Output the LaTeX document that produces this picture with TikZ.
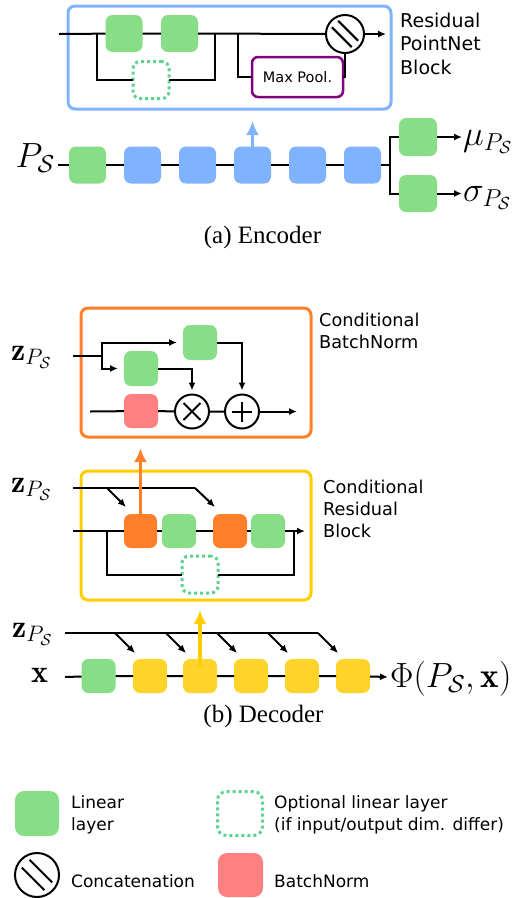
\RequirePackage{fix-cm}
\documentclass[tikz,border=0pt]{standalone}
\usepackage{fontspec}
\newfontfamily\sansf{DejaVu Sans}
\newfontfamily\capf{Liberation Serif}
\usetikzlibrary{arrows.meta}
\definecolor{lingreen}{HTML}{87DE87}
\definecolor{optgreen}{HTML}{5FD38D}
\definecolor{encblue}{HTML}{80B3FF}
\definecolor{cbnorange}{HTML}{FF7F2A}
\definecolor{crbyellow}{HTML}{FFCC00}
\definecolor{boxyellow}{HTML}{FFD42A}
\definecolor{bnred}{HTML}{FF8080}
\definecolor{mppurple}{HTML}{800080}
\tikzset{
  conn/.style={line width=2pt, draw=black},
  arr/.style={conn, -{Latex[length=8pt,width=7pt]}},
  bigarr/.style={line width=3.5pt, -{Latex[length=14pt,width=13pt]}},
  blk/.style={rounded corners=7pt, inner sep=0pt, outer sep=0pt, minimum width=37pt, minimum height=37pt},
  lin/.style={blk, fill=lingreen},
  optbox/.style={blk, draw=optgreen, line width=3pt, dash pattern=on 3pt off 3pt},
  bnbox/.style={blk, fill=bnred},
  frame/.style={rounded corners=7pt, line width=3pt, inner sep=0pt, outer sep=0pt},
  catnode/.style={circle, draw=black, line width=2pt, inner sep=0pt, outer sep=0pt, fill=white},
  symline/.style={line width=2pt, draw=black},
  mathlbl/.style={inner sep=0pt, font=\fontsize{32}{38}\selectfont},
  biglbl/.style={inner sep=0pt, font=\fontsize{35}{40}\selectfont},
  caplbl/.style={inner sep=0pt, font=\capf\fontsize{25}{30}\selectfont},
  blklbl/.style={inner sep=0pt, align=left, anchor=north west, font=\sansf\fontsize{17.7}{22.2}\selectfont},
  leglbl/.style={inner sep=0pt, align=left, anchor=north west, font=\sansf\fontsize{17}{22}\selectfont},
}
\begin{document}
\begin{tikzpicture}[x=1pt,y=-1pt]
\useasboundingbox (0,0) rectangle (528,898);

% ================= Encoder =================
\node[frame, draw=encblue, minimum width=323pt, minimum height=103pt] (e_blk) at (229.5,57.5) {};
\node[lin] (e_l1) at (124,33.5) {};
\node[lin] (e_l2) at (179.5,33.5) {};
\node[optbox, minimum width=36pt, minimum height=37pt] (e_opt) at (151,80) {};
\node[blk, draw=mppurple, line width=2.5pt, rounded corners=6pt, minimum width=91pt, minimum height=40pt, font=\sansf\fontsize{14.5}{17}\selectfont] (e_mp) at (297.5,77) {Max Pool.};
\node[catnode, minimum size=38pt] (e_cat) at (345,34) {};
\coordinate (e_in) at (59,34);
\coordinate (e_s1) at (97,34);
\coordinate (e_j1) at (215,34);
\coordinate (e_s2) at (238,34);
\coordinate (e_out) at (386,34);
\draw[conn] (e_in) -- (e_l1) -- (e_l2) -- (e_cat);
\draw[arr] (e_cat) -- (e_out);
\draw[conn] (e_s1) |- (e_opt);
\draw[conn] (e_opt) -| (e_j1);
\draw[conn] (e_s2) |- (e_mp);
\draw[conn] (e_mp) -| (e_cat);
\draw[symline] ([shift={(-6.7,-13.1)}]e_cat.center) -- ([shift={(13.1,6.7)}]e_cat.center);
\draw[symline] ([shift={(-13.1,-6.7)}]e_cat.center) -- ([shift={(6.7,13.1)}]e_cat.center);
\node[inner sep=0pt, align=left, anchor=north west, font=\sansf\fontsize{19}{23.5}\selectfont] (e_txt) at (400,12.6) {Residual\\PointNet\\Block};

\node[biglbl, anchor=base east] (e_P) at (55,167) {$P_{\mathcal{S}}$};
\coordinate (e_min) at (58,165);
\node[lin] (e_b0) at (87.5,165) {};
\node[blk, fill=encblue] (e_b1) at (142.5,165) {};
\node[blk, fill=encblue] (e_b2) at (197.5,165) {};
\node[blk, fill=encblue] (e_b3) at (252.5,165) {};
\node[blk, fill=encblue] (e_b4) at (307.5,165) {};
\node[blk, fill=encblue] (e_b5) at (362.5,165) {};
\coordinate (e_split) at (390,165);
\draw[conn] (e_min) -- (e_b0) -- (e_b1) -- (e_b2) -- (e_b3) -- (e_b4) -- (e_b5) -- (e_split);
\node[lin, minimum width=38pt, minimum height=38pt] (e_gm) at (418,137) {};
\node[lin, minimum width=38pt, minimum height=37pt] (e_gs) at (418,193.5) {};
\draw[conn] (e_split) |- (e_gm);
\draw[conn] (e_split) |- (e_gs);
\coordinate (e_mue) at (462,137);
\coordinate (e_sge) at (462,193.5);
\draw[arr] (e_gm) -- (e_mue);
\draw[arr] (e_gs) -- (e_sge);
\node[biglbl, anchor=base west] (e_mu) at (463,145) {$\mu_{P_{\mathcal{S}}}$};
\node[biglbl, anchor=base west] (e_sig) at (463,201) {$\sigma_{P_{\mathcal{S}}}$};
\coordinate (e_up) at (252.5,121);
\draw[bigarr, draw=encblue] (e_b3.center) -- (e_up);
\node[caplbl, anchor=base] (capA) at (262.5,243) {(a) Encoder};

% ================= Conditional BatchNorm =================
\node[frame, draw=cbnorange, minimum width=230pt, minimum height=129pt] (c_blk) at (196,372.5) {};
\node[mathlbl, anchor=base west] (c_z) at (11,360) {$\mathbf{z}_{P_{\mathcal{S}}}$};
\coordinate (c_zin) at (73,356);
\coordinate (c_br) at (102,356);
\node[lin, minimum width=34pt, minimum height=35pt] (c_g1) at (200,342.5) {};
\node[lin, minimum width=34pt, minimum height=35pt] (c_g2) at (141,368.5) {};
\draw[conn] (c_zin) -- (c_br);
\draw[arr, shorten >=6pt] (c_br) |- (c_g1);
\draw[arr, shorten >=6pt] (c_br) |- (c_g2);
\node[bnbox, minimum width=34pt, minimum height=34pt] (c_bn) at (141,411) {};
\node[catnode, minimum size=34pt] (c_mul) at (192,411.5) {};
\node[catnode, minimum size=34pt] (c_add) at (242,411.5) {};
\draw[arr, shorten >=4pt] (c_g2) -| (c_mul);
\draw[arr, shorten >=4pt] (c_g1) -| (c_add);
\coordinate (c_in) at (90,411.5);
\coordinate (c_out) at (297,411.5);
\draw[conn] (c_in) -- (c_bn) -- (c_mul) -- (c_add);
\draw[arr] (c_add) -- (c_out);
\draw[symline] ([shift={(-8.5,-8.5)}]c_mul.center) -- ([shift={(8.5,8.5)}]c_mul.center);
\draw[symline] ([shift={(-8.5,8.5)}]c_mul.center) -- ([shift={(8.5,-8.5)}]c_mul.center);
\draw[symline] ([shift={(-10,0)}]c_add.center) -- ([shift={(10,0)}]c_add.center);
\draw[symline] ([shift={(0,-10)}]c_add.center) -- ([shift={(0,10)}]c_add.center);
\node[blklbl] (c_txt) at (319,312.5) {Conditional\\BatchNorm};

% ================= Conditional Residual Block =================
\node[frame, draw=crbyellow, minimum width=230pt, minimum height=129pt] (r_blk) at (196,535.5) {};
\node[mathlbl, anchor=base west] (r_z) at (11,492) {$\mathbf{z}_{P_{\mathcal{S}}}$};
\coordinate (r_zin) at (73,488);
\coordinate (r_zb) at (195,488);
\coordinate (r_za2) at (215,507);
\coordinate (r_zt1) at (107,488);
\coordinate (r_za1) at (126,507);
\draw[conn] (r_zin) -- (r_zb);
\draw[arr] (r_zb) -- (r_za2);
\draw[arr] (r_zt1) -- (r_za1);
\node[blk, fill=cbnorange, minimum width=33pt, minimum height=34pt] (r_o1) at (140.5,531) {};
\node[lin, minimum width=34pt, minimum height=34pt] (r_g1) at (179,531) {};
\node[blk, fill=cbnorange, minimum width=34pt, minimum height=34pt] (r_o2) at (230,531) {};
\node[lin, minimum width=34pt, minimum height=34pt] (r_g2) at (268,531) {};
\coordinate (r_in) at (73,531);
\coordinate (r_out) at (305,531);
\coordinate (r_s) at (107,531);
\coordinate (r_j) at (294,531);
\draw[conn] (r_in) -- (r_o1) -- (r_g1) -- (r_o2) -- (r_g2);
\draw[arr] (r_g2) -- (r_out);
\node[optbox, minimum width=36pt, minimum height=37pt] (r_opt) at (200,574.5) {};
\draw[conn] (r_s) |- (r_opt);
\draw[conn] (r_opt) -| (r_j);
\node[blklbl] (r_txt) at (323,479.5) {Conditional\\Residual\\Block};
\coordinate (c_tip) at (140.5,448);
\draw[bigarr, draw=cbnorange] (r_o1.center) -- (c_tip);

% ================= Decoder main =================
\node[mathlbl, anchor=base west] (m_z) at (12,637) {$\mathbf{z}_{P_{\mathcal{S}}}$};
\node[mathlbl, anchor=base west] (m_x) at (31,682) {$\mathbf{x}$};
\coordinate (m_zin) at (65,633);
\coordinate (m_zend) at (318,633);
\coordinate (m_za5) at (338,653);
\draw[conn] (m_zin) -- (m_zend);
\draw[arr] (m_zend) -- (m_za5);
\foreach \i/\xs in {1/115,2/166,3/217,4/268} {
  \coordinate (m_zt\i) at (\xs,633);
  \coordinate (m_za\i) at (\xs+20,653);
  \draw[arr] (m_zt\i) -- (m_za\i);
}
\node[lin, minimum width=34pt, minimum height=34pt] (m_b0) at (98.5,676) {};
\node[blk, fill=boxyellow, minimum width=34pt, minimum height=34pt] (m_b1) at (150,676) {};
\node[blk, fill=boxyellow, minimum width=34pt, minimum height=34pt] (m_b2) at (200,676) {};
\node[blk, fill=boxyellow, minimum width=34pt, minimum height=34pt] (m_b3) at (251,676) {};
\node[blk, fill=boxyellow, minimum width=34pt, minimum height=34pt] (m_b4) at (302,676) {};
\node[blk, fill=boxyellow, minimum width=34pt, minimum height=34pt] (m_b5) at (353,676) {};
\coordinate (m_in) at (65,677);
\coordinate (m_out) at (388,677);
\draw[conn] (m_in) -- (m_b0) -- (m_b1) -- (m_b2) -- (m_b3) -- (m_b4) -- (m_b5);
\draw[arr] (m_b5) -- (m_out);
\coordinate (m_ys) at (200,666);
\coordinate (m_yt) at (200,610);
\draw[bigarr, draw=crbyellow] (m_ys) -- (m_yt);
\node[biglbl, anchor=base west] (m_phi) at (390,687) {$\Phi(P_{\mathcal{S}},\mathbf{x})$};
\node[caplbl, anchor=base] (capB) at (263.5,722) {(b) Decoder};

% ================= Legend =================
\node[lin, rounded corners=9pt, minimum width=44pt, minimum height=45pt] (l_lin) at (37,813.5) {};
\node[leglbl] (l_lintxt) at (71,795) {Linear\\layer};
\node[optbox, rounded corners=9pt, minimum width=45pt, minimum height=44pt] (l_opt) at (240,813.5) {};
\node[leglbl] (l_opttxt) at (274,795) {Optional linear layer\\(if input/output dim. differ)};
\node[catnode, minimum size=44pt] (l_cat) at (37,875) {};
\draw[symline] ([shift={(-7.4,-15.2)}]l_cat.center) -- ([shift={(15.2,7.4)}]l_cat.center);
\draw[symline] ([shift={(-15.2,-7.4)}]l_cat.center) -- ([shift={(7.4,15.2)}]l_cat.center);
\node[leglbl, anchor=base west] (l_cattxt) at (71,887) {Concatenation};
\node[bnbox, rounded corners=9pt, minimum width=45pt, minimum height=44pt] (l_bn) at (240.5,875) {};
\node[leglbl, anchor=base west] (l_bntxt) at (274,887) {BatchNorm};
\end{tikzpicture}
\end{document}
